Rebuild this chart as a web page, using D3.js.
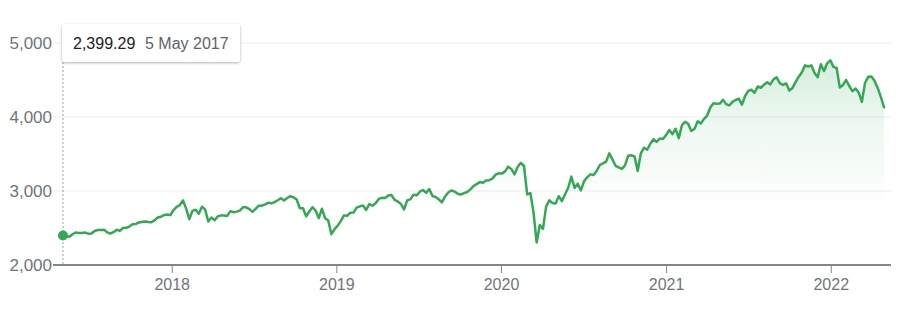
<!DOCTYPE html>
<html>
<head>
<meta charset="utf-8">
<script src="https://cdn.jsdelivr.net/npm/d3@7"></script>
<style>
  html, body { margin: 0; padding: 0; background: #fff; }
  svg { display: block; font-family: "Liberation Sans", Arial, sans-serif; }
</style>
</head>
<body>
<svg id="chart" width="904" height="312"></svg>
<script>
// ---- Data: S&P 500 weekly closes, 5 May 2017 – 29 Apr 2022 ----
const startDate = "2017-05-05";
const endDate = "2022-04-29";
const closes2017 = [
  2399.29, 2390.90, 2381.73, 2415.82,
  2439.07, 2431.77, 2433.15, 2438.30, 2423.41,
  2425.18, 2459.27, 2472.54, 2472.10,
  2476.83, 2441.32, 2425.55, 2443.05,
  2476.55, 2461.43, 2500.23, 2502.22, 2519.36,
  2549.33, 2553.17, 2575.21, 2581.07,
  2587.84, 2582.30, 2578.85, 2602.42,
  2642.22, 2651.50, 2675.81, 2683.34, 2673.61
];
const closes2018 = [
  2743.15, 2786.24, 2810.30, 2872.87,
  2762.13, 2619.55, 2732.22, 2747.30,
  2691.25, 2786.57, 2752.01, 2588.26, 2640.87,
  2604.47, 2656.30, 2670.14, 2669.91,
  2663.42, 2727.72, 2712.97, 2721.33,
  2734.62, 2779.03, 2779.42, 2754.88, 2718.37,
  2759.82, 2801.31, 2801.83, 2818.82,
  2840.35, 2833.28, 2850.13, 2874.69, 2901.52,
  2871.68, 2904.98, 2929.67, 2913.98,
  2885.57, 2767.13, 2767.78, 2658.69,
  2723.06, 2781.01, 2736.27, 2632.56, 2760.17,
  2633.08, 2599.95, 2416.62, 2485.74
];
const closes2019 = [
  2531.94, 2596.26, 2670.71, 2664.76,
  2706.53, 2707.88, 2775.60, 2792.67,
  2803.69, 2743.07, 2822.48, 2800.71, 2834.40,
  2892.74, 2907.41, 2905.03, 2939.88,
  2945.64, 2881.40, 2859.53, 2826.06, 2752.06,
  2873.34, 2886.98, 2950.46, 2941.76,
  2990.41, 3013.77, 2976.61, 3025.86,
  2932.05, 2918.65, 2888.68, 2847.11, 2926.46,
  2978.71, 3007.39, 2992.07, 2961.79,
  2952.01, 2970.27, 2986.20, 3022.55,
  3066.91, 3093.08, 3120.46, 3110.29, 3140.98,
  3145.91, 3168.80, 3221.22, 3240.02
];
const closes2020 = [
  3234.85, 3265.35, 3329.62, 3295.47, 3225.52,
  3327.71, 3380.16, 3337.75, 2954.22,
  2972.37, 2711.02, 2304.92, 2541.47,
  2488.65, 2789.82, 2874.56, 2836.74,
  2830.71, 2929.80, 2863.70, 2955.45, 3044.31,
  3193.93, 3041.31, 3097.74, 3009.05,
  3130.01, 3185.04, 3224.73, 3215.63, 3271.12,
  3351.28, 3372.85, 3397.16, 3508.01,
  3426.96, 3340.97, 3319.47, 3298.46,
  3348.42, 3477.13, 3483.81, 3465.39, 3269.96,
  3509.44, 3585.15, 3557.54, 3638.35,
  3699.12, 3663.46, 3709.41, 3703.06, 3756.07
];
const closes2021 = [
  3824.68, 3768.25, 3841.47, 3714.24,
  3886.83, 3934.83, 3906.71, 3811.15,
  3841.94, 3943.34, 3913.10, 3974.54,
  4019.87, 4128.80, 4185.47, 4180.17, 4181.17,
  4232.60, 4173.85, 4155.86, 4204.11,
  4229.89, 4247.44, 4166.45, 4280.70,
  4352.34, 4369.55, 4327.16, 4411.79, 4395.26,
  4436.52, 4468.00, 4441.67, 4509.37,
  4535.43, 4458.58, 4432.99, 4455.48,
  4357.04, 4391.34, 4471.37, 4544.90, 4605.38,
  4697.53, 4682.85, 4697.96, 4594.62,
  4538.43, 4712.02, 4620.64, 4725.79, 4766.18
];
const closes2022 = [
  4677.03, 4662.85, 4397.94, 4431.85,
  4500.53, 4418.64, 4348.87, 4384.65,
  4328.87, 4204.31, 4463.12, 4543.06,
  4545.86, 4488.28, 4392.59, 4271.78, 4131.93
];
const yTicks = [2000, 3000, 4000, 5000];
const yearTicks = [2018, 2019, 2020, 2021, 2022];

// ---- Build ----
const closes = [].concat(closes2017, closes2018, closes2019, closes2020, closes2021, closes2022);
const parse = d3.timeParse("%Y-%m-%d");
const weeks = d3.timeFriday.range(parse(startDate), d3.timeDay.offset(parse(endDate), 1));
const data = weeks.map((d, i) => ({ date: d, value: closes[i] }));

const svg = d3.select("#chart");
const plotLeft = 53, plotRight = 891, lineStart = 63, lineEnd = 884;
const green = "#34a853";
const axisGrey = "#80868b";
const labelGrey = "#70757a";

// index-based time scale (points are evenly spaced)
const idx = d3.scaleLinear().domain([0, data.length - 1]).range([lineStart, lineEnd]);
const x = d3.scaleTime().domain(data.map(d => d.date)).range(data.map((d, i) => idx(i)));
const y = d3.scaleLinear().domain([2000, 5000]).range([265, 43]);

const defs = svg.append("defs");
const grad = defs.append("linearGradient")
  .attr("id", "areaGrad").attr("gradientUnits", "userSpaceOnUse")
  .attr("x1", 0).attr("x2", 0).attr("y1", y(5000)).attr("y2", y(2750));
grad.append("stop").attr("offset", 0).attr("stop-color", green).attr("stop-opacity", 0.24);
grad.append("stop").attr("offset", 0.45).attr("stop-color", green).attr("stop-opacity", 0.09);
grad.append("stop").attr("offset", 1).attr("stop-color", green).attr("stop-opacity", 0);

const shadow = defs.append("filter").attr("id", "shadow")
  .attr("x", "-20%").attr("y", "-40%").attr("width", "140%").attr("height", "180%");
shadow.append("feDropShadow").attr("dx", 0).attr("dy", 1).attr("stdDeviation", 1.5)
  .attr("flood-color", "#000").attr("flood-opacity", 0.3);

// gridlines
svg.append("g").selectAll("line").data(yTicks.filter(t => t !== 2000)).join("line")
  .attr("x1", plotLeft).attr("x2", plotRight)
  .attr("y1", d => y(d)).attr("y2", d => y(d))
  .attr("stroke", "#ededed").attr("stroke-width", 1);

// y labels
svg.append("g").selectAll("text").data(yTicks).join("text")
  .attr("x", 52).attr("y", d => y(d)).attr("dy", "0.36em")
  .attr("text-anchor", "end").attr("fill", labelGrey)
  .style("font-size", "17px")
  .text(d => d3.format(",")(d));

// area
const area = d3.area().x(d => x(d.date)).y0(y(2000)).y1(d => y(d.value));
svg.append("path").datum(data).attr("d", area).attr("fill", "url(#areaGrad)");

// x axis
const xAxis = d3.axisBottom(x)
  .tickValues(yearTicks.map(yr => new Date(yr, 0, 1)))
  .tickFormat(d3.timeFormat("%Y"))
  .tickSize(8).tickPadding(6);
const gx = svg.append("g").attr("transform", `translate(0,${y(2000)})`).call(xAxis);
gx.select(".domain").remove();
gx.selectAll(".tick line").attr("stroke", axisGrey).attr("stroke-width", 1);
gx.selectAll(".tick text").attr("fill", labelGrey)
  .style("font-size", "16px").style("font-family", "'Liberation Sans', Arial, sans-serif");
svg.append("line").attr("x1", plotLeft).attr("x2", plotRight)
  .attr("y1", y(2000)).attr("y2", y(2000))
  .attr("stroke", axisGrey).attr("stroke-width", 2);

// hover guide
const first = data[0];
svg.append("line").attr("x1", x(first.date)).attr("x2", x(first.date))
  .attr("y1", 62).attr("y2", y(2000))
  .attr("stroke", "#9aa0a6").attr("stroke-width", 1).attr("stroke-dasharray", "2,2");

// line
const line = d3.line().x(d => x(d.date)).y(d => y(d.value));
svg.append("path").datum(data).attr("d", line)
  .attr("fill", "none").attr("stroke", green).attr("stroke-width", 2.5)
  .attr("stroke-linejoin", "round").attr("stroke-linecap", "round");

// hover dot
svg.append("circle").attr("cx", x(first.date)).attr("cy", y(first.value))
  .attr("r", 5).attr("fill", green);

// tooltip
const tip = svg.append("g");
tip.append("rect").attr("x", 62).attr("y", 24).attr("width", 178).attr("height", 38)
  .attr("rx", 3).attr("fill", "#fff").attr("filter", "url(#shadow)");
tip.append("text").attr("x", 73).attr("y", 49).attr("fill", "#202124")
  .style("font-size", "16px").text(d3.format(",.2f")(first.value));
tip.append("text").attr("x", 145).attr("y", 49).attr("fill", "#5f6368")
  .style("font-size", "16px").text(d3.timeFormat("%-d %b %Y")(first.date));
</script>
</body>
</html>
